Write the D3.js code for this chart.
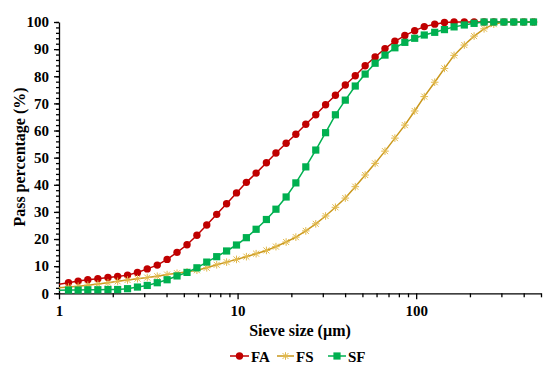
<!DOCTYPE html>
<html><head><meta charset="utf-8">
<script src="https://cdn.jsdelivr.net/npm/d3@7"></script>
<style>body{margin:0;background:#fff}svg{display:block}</style>
</head><body><svg id="c" width="550" height="371"></svg>
<script>
const sizes = [0.991,1.13,1.28,1.45,1.65,1.88,2.13,2.42,2.75,3.12,3.55,4.03,4.58,5.21,5.92,6.72,7.64,8.68,9.86,11.2,12.7,14.5,16.4,18.7,21.2,24.1,27.4,31.1,35.3,40.1,45.6,51.8,58.9,66.9,76.0,86.4,98.1,111,127,144,163,186,211,240,272,310,352,400,454];
const FA = [3.3,3.9,4.5,5.0,5.4,5.8,6.2,6.7,7.7,9.0,10.4,12.5,15.1,17.9,21.4,25.2,29.1,33.0,37.0,40.9,44.3,48.1,51.7,55.3,58.6,62.3,65.8,69.5,73.0,76.8,80.2,83.9,87.1,90.2,92.9,95.0,96.8,98.3,99.2,99.8,100,100,100,100,100,100,100,100,100];
const FS = [2.0,2.3,2.6,3.0,3.4,3.9,4.4,4.9,5.4,5.8,6.3,6.9,7.4,7.9,8.5,9.4,10.5,11.5,12.5,13.5,14.6,15.8,17.2,18.9,20.7,23.0,25.6,28.5,31.7,35.1,39.3,43.6,47.9,52.4,57.2,62.0,67.2,72.5,77.8,82.9,87.7,91.5,94.8,97.5,99.2,100,100,100,100];
const SF = [1.1,1.2,1.2,1.3,1.3,1.4,1.4,1.7,2.3,2.9,3.9,5.0,6.4,7.7,9.4,11.5,13.5,15.6,17.8,20.5,23.6,27.2,31.0,35.5,40.7,46.6,52.8,59.2,65.8,71.2,76.4,80.8,84.8,87.8,90.5,92.5,94.0,95.2,96.2,97.2,98.2,98.9,99.5,100,100,100,100,100,100];
const seriesNames = ["FA","FS","SF"];
const xTickLabels = [1,10,100];
const yTickLabels = [0,10,20,30,40,50,60,70,80,90,100];

const svg = d3.select("#c");
const font = "'Liberation Serif','Times New Roman',serif";
const x = d3.scaleLog().domain([1,500]).range([59,541]);
const y = d3.scaleLinear().domain([0,100]).range([293.3,22]);

const colors = {FA:"#C00000", FS:"#C9971C", SF:"#00B050"};
const markFill = {FA:"#C00000", FS:"#E2B94C", SF:"#00B050"};
const data = {FA, FS, SF};

svg.append("clipPath").attr("id","clip").append("rect").attr("x",59).attr("y",0).attr("width",490).attr("height",300);

// axes
const xMinor = [];
[1,10,100].forEach(d=>{for(let k=2;k<=9;k++){const v=d*k; if(v<=500) xMinor.push(v);}});
const gx = svg.append("g").attr("transform","translate(0,293.3)");
gx.call(d3.axisBottom(x).tickValues(xMinor).tickSize(4).tickFormat(""));
gx.call(g=>g.select(".domain").remove());
const gx2 = svg.append("g").attr("transform","translate(0,293.3)");
gx2.call(d3.axisBottom(x).tickValues(xTickLabels).tickSize(6).tickSizeOuter(0).tickPadding(6).tickFormat(d3.format("d")));
gx2.selectAll("text").attr("font-family",font).attr("font-weight","bold").attr("font-size",15).attr("fill","#000");
svg.selectAll("g line, g path.domain").attr("stroke","#000").attr("stroke-width",1.3);

const gy = svg.append("g").attr("transform","translate(59,0)");
gy.call(d3.axisLeft(y).tickValues(d3.range(0,101,2)).tickSize(3).tickFormat(""));
gy.call(g=>g.select(".domain").remove());
const gy2 = svg.append("g").attr("transform","translate(59,0)");
gy2.call(d3.axisLeft(y).tickValues(yTickLabels).tickSize(5).tickSizeOuter(0).tickPadding(5));
gy2.selectAll("text").attr("font-family",font).attr("font-weight","bold").attr("font-size",15).attr("fill","#000");
svg.selectAll("g line, g path.domain").attr("stroke","#000").attr("stroke-width",1.3);

// axis titles
svg.append("text").attr("x",300).attr("y",336).attr("text-anchor","middle")
  .attr("font-family",font).attr("font-weight","bold").attr("font-size",16).text("Sieve size (µm)");
svg.append("text").attr("transform","translate(25,157) rotate(-90)").attr("text-anchor","middle")
  .attr("font-family",font).attr("font-weight","bold").attr("font-size",16).text("Pass percentage (%)");

const star = "M-3,-3L3,3M-3,3L3,-3M0,-3.8L0,3.8M-3.8,0L3.8,0";
function drawMarker(g, name, cx, cy){
  if(name==="FA") g.append("circle").attr("cx",cx).attr("cy",cy).attr("r",3.7).attr("fill",markFill.FA);
  else if(name==="SF") g.append("rect").attr("x",cx-3.6).attr("y",cy-3.6).attr("width",7.2).attr("height",7.2).attr("fill",markFill.SF);
  else g.append("path").attr("d",star).attr("transform",`translate(${cx},${cy})`).attr("stroke",markFill.FS).attr("stroke-width",1).attr("fill","none");
}

const plot = svg.append("g").attr("clip-path","url(#clip)");
const line = d3.line().x((d,i)=>x(sizes[i])).y(d=>y(d));
seriesNames.forEach(name=>{
  const vals = data[name];
  const g = plot.append("g");
  g.append("path").attr("d",line(vals)).attr("fill","none").attr("stroke",colors[name]).attr("stroke-width",1.5);
  vals.forEach((v,i)=>{ if(sizes[i]>=1) drawMarker(g,name,x(sizes[i]),y(v)); });
});

// legend
const leg = [{n:"FA",x1:230,x2:249,tx:251},{n:"FS",x1:277,x2:294,tx:296},{n:"SF",x1:328,x2:346,tx:348}];
leg.forEach(l=>{
  const g = svg.append("g");
  g.append("line").attr("x1",l.x1).attr("x2",l.x2).attr("y1",356).attr("y2",356).attr("stroke",colors[l.n]).attr("stroke-width",1.5);
  drawMarker(g,l.n,(l.x1+l.x2)/2,356);
  g.append("text").attr("x",l.tx).attr("y",361.5).attr("font-family",font).attr("font-weight","bold").attr("font-size",15).text(l.n);
});
</script></body></html>
